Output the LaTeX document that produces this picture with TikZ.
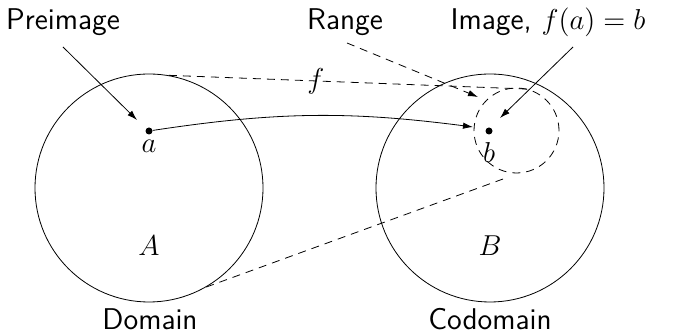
\documentclass[tikz,border=0pt]{standalone}
\usetikzlibrary{arrows.meta}
\begin{document}
\begin{tikzpicture}[x=0.5pt,y=-0.5pt,
  font=\fontsize{15}{17}\selectfont\sffamily,
  set/.style={draw,circle,minimum size=114pt,inner sep=0pt},
  rangeset/.style={draw,circle,dash pattern=on 4pt off 3pt,minimum size=42.5pt,inner sep=0pt},
  pt/.style={circle,fill,inner sep=0pt,minimum size=3.5pt},
  dsh/.style={dash pattern=on 4pt off 3pt},
  arr/.style={-{Latex[length=5pt,width=3.2pt]}}]
\useasboundingbox (0,0) rectangle (675,335);
\node[set] (A) at (149,188) {};
\node[set] (B) at (490,188) {};
\node[rangeset] (R) at (516.5,130.5) {};
\node[pt] (a) at (149,131) {};
\node[pt] (b) at (489,131) {};
\node (la) at (149,146) {$a$};
\node (lb) at (489,153) {$b$};
\node (lA) at (149,246) {$A$};
\node (lB) at (490,246) {$B$};
\node (dom) at (150,319) {Domain};
\node (cod) at (490,319) {Codomain};
\node (pre) at (63,22) {Preimage};
\node (ran) at (345,22) {Range};
\node (img) at (548,22) {Image, $f(a)=b$};
\coordinate (p1) at (63,47);
\coordinate (p2) at (137,120);
\coordinate (r1) at (347,43);
\coordinate (r2) at (478,97);
\coordinate (i1) at (573,47);
\coordinate (i2) at (500,118);
\coordinate (bt) at (473,127);
\coordinate (lo) at (503,179);
\draw[arr] (p1) -- (p2);
\draw[arr,dsh] (r1) -- (r2);
\draw[arr] (i1) -- (i2);
\draw[arr] (a) to[bend left=8] (bt);
\draw[dsh] (A.80) -- node[pos=0.41] (f) {$f$} (R.75);
\draw[dsh] (A.-60) -- (lo);
\end{tikzpicture}
\end{document}
